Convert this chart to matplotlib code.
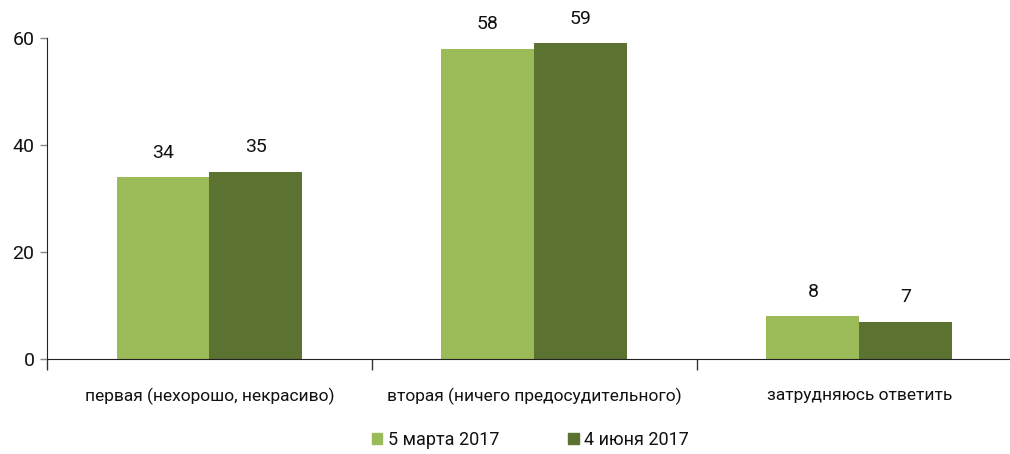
import numpy as np
import matplotlib.pyplot as plt
from matplotlib.patches import Patch

categories = ['первая (нехорошо, некрасиво)',
              'вторая (ничего предосудительного)',
              'затрудняюсь ответить']
march = [34, 58, 8]
june = [35, 59, 7]
series_names = ['5 марта 2017', '4 июня 2017']
yticks = [0, 20, 40, 60]

c_light = '#9BBB59'
c_dark = '#5B7231'

plt.rcParams['font.family'] = ['Roboto', 'DejaVu Sans']
plt.rcParams['text.color'] = '#111111'

fig = plt.figure(figsize=(10.10, 4.54), dpi=100)
ax = fig.add_axes([0.0465, 0.2093, 0.9653, 0.7070])

x = np.arange(len(categories))
w = 0.286
b1 = ax.bar(x - w / 2, march, width=w, color=c_light, zorder=2)
b2 = ax.bar(x + w / 2, june, width=w, color=c_dark, zorder=2)

for bars, vals in ((b1, march), (b2, june)):
    for rect, v in zip(bars, vals):
        ax.annotate(f'{v}', xy=(rect.get_x() + rect.get_width() / 2, v),
                    xytext=(0, 11), textcoords='offset points',
                    ha='center', va='bottom', fontsize=14, color='#111111')

ax.set_xlim(-0.5, len(categories) - 0.5)
ax.set_ylim(0, 60)
ax.set_yticks(yticks)
ax.tick_params(axis='y', labelsize=14, length=5, width=1, color='#888888',
               pad=4, labelcolor='#111111')

# category boundaries as ticks, labels centred in between
ax.set_xticks(np.arange(len(categories) + 1) - 0.5)
ax.set_xticklabels([])
ax.set_xticks(x, minor=True)
ax.set_xticklabels(categories, minor=True, fontsize=12.5, color='#111111')
ax.tick_params(axis='x', which='major', length=8, width=1, color='#333333')
ax.tick_params(axis='x', which='minor', length=0, pad=21)

for s in ('top', 'right'):
    ax.spines[s].set_visible(False)
ax.spines['left'].set_color('#222222')
ax.spines['bottom'].set_color('#222222')

handles = [Patch(color=c_light), Patch(color=c_dark)]
fig.legend(handles, series_names, loc='center', bbox_to_anchor=(0.525, 0.031),
           ncol=2, frameon=False, fontsize=13, handlelength=0.6,
           handleheight=0.6, handletextpad=0.3, columnspacing=3.8)

fig.savefig('out.png', dpi=100, facecolor='white')
